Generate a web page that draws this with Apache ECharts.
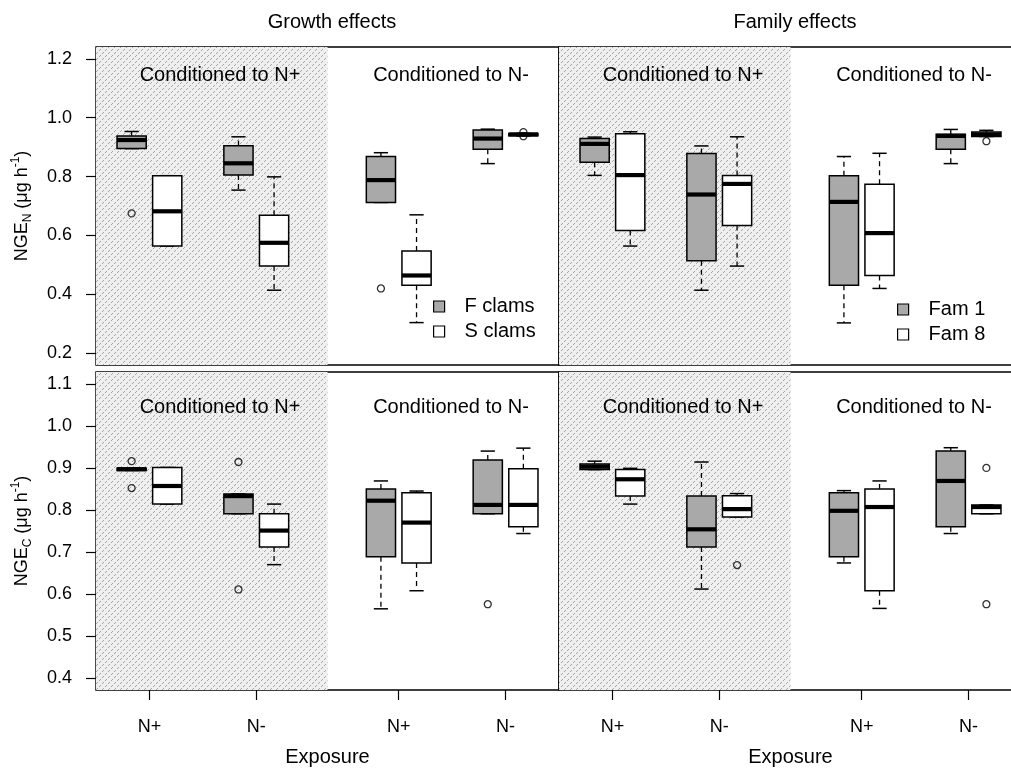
<!DOCTYPE html>
<html>
<head>
<meta charset="utf-8">
<script src="https://cdn.jsdelivr.net/npm/echarts@6/dist/echarts.min.js"></script>
<style>html,body{margin:0;padding:0;background:#fff;}#main{width:1011px;height:771px;}</style>
</head>
<body>
<div id="main"></div>
<script>
// ---------- DATA ----------
// Each box: [lower whisker, Q1, median, Q3, upper whisker]
// slots: 0 = Conditioned N+ / exposure N+, 1 = Cond N+ / exp N-, 2 = Cond N- / exp N+, 3 = Cond N- / exp N-
const exposureLabels = ['N+', 'N-', 'N+', 'N-'];
const exposureTicks = [1.5, 4.5, 8.5, 11.5];
const posA = [1, 4, 8, 11];
const posB = [2, 5, 9, 12];
const conditionedRange = [0, 6.5];

const yTicksN = [0.2, 0.4, 0.6, 0.8, 1.0, 1.2];
const yTicksC = [0.4, 0.5, 0.6, 0.7, 0.8, 0.9, 1.0, 1.1];

// NGE_N, growth effects
const growthN_F = [
  [0.895, 0.895, 0.924, 0.938, 0.953],
  [0.754, 0.805, 0.845, 0.905, 0.935],
  [0.712, 0.712, 0.788, 0.868, 0.881],
  [0.844, 0.893, 0.929, 0.958, 0.961]
];
const growthN_S = [
  [0.564, 0.564, 0.682, 0.803, 0.803],
  [0.414, 0.496, 0.575, 0.669, 0.799],
  [0.304, 0.431, 0.464, 0.547, 0.670],
  [0.938, 0.939, 0.943, 0.946, 0.947]
];
const growthN_F_out = [[0, 0.675], [2, 0.420]];
const growthN_S_out = [[3, 0.951], [3, 0.937]];

// NGE_N, family effects
const famN_1 = [
  [0.804, 0.849, 0.911, 0.929, 0.934],
  [0.414, 0.514, 0.739, 0.878, 0.904],
  [0.303, 0.431, 0.714, 0.803, 0.868],
  [0.844, 0.893, 0.938, 0.944, 0.960]
];
const famN_8 = [
  [0.564, 0.617, 0.805, 0.945, 0.952],
  [0.496, 0.634, 0.775, 0.804, 0.935],
  [0.420, 0.464, 0.608, 0.774, 0.879],
  [0.936, 0.936, 0.943, 0.951, 0.957]
];
const famN_1_out = [];
const famN_8_out = [[3, 0.920]];

// NGE_C, growth effects
const growthC_F = [
  [0.894, 0.894, 0.897, 0.899, 0.899],
  [0.791, 0.791, 0.833, 0.838, 0.838],
  [0.565, 0.689, 0.822, 0.850, 0.869],
  [0.791, 0.791, 0.812, 0.919, 0.940]
];
const growthC_S = [
  [0.814, 0.814, 0.857, 0.901, 0.901],
  [0.670, 0.712, 0.751, 0.791, 0.814],
  [0.608, 0.674, 0.770, 0.841, 0.845],
  [0.744, 0.760, 0.812, 0.898, 0.947]
];
const growthC_F_out = [[0, 0.916], [0, 0.852], [1, 0.914], [1, 0.611], [3, 0.576]];
const growthC_S_out = [];

// NGE_C, family effects
const famC_1 = [
  [0.896, 0.896, 0.903, 0.909, 0.916],
  [0.612, 0.712, 0.754, 0.833, 0.914],
  [0.674, 0.689, 0.798, 0.841, 0.846],
  [0.744, 0.760, 0.869, 0.940, 0.948]
];
const famC_8 = [
  [0.814, 0.833, 0.873, 0.896, 0.899],
  [0.783, 0.783, 0.802, 0.834, 0.839],
  [0.566, 0.608, 0.807, 0.850, 0.869],
  [0.791, 0.791, 0.807, 0.812, 0.812]
];
const famC_1_out = [];
const famC_8_out = [[1, 0.669], [3, 0.900], [3, 0.576]];

// ---------- STYLE ----------
const FONT = '"Liberation Sans", Arial, sans-serif';
const GRAY = '#a9a9a9';

function makeHatch() {
  const c = document.createElement('canvas');
  c.width = 6; c.height = 6;
  const ctx = c.getContext('2d');
  ctx.fillStyle = '#efefef';
  ctx.fillRect(0, 0, 6, 6);
  ctx.fillStyle = '#a6a6a6';
  ctx.fillRect(4, 1, 1, 1);
  ctx.fillRect(3, 2, 1, 1);
  ctx.fillRect(1, 4, 1, 1);
  ctx.fillRect(0, 5, 1, 1);
  return c;
}
const hatch = makeHatch();

function renderBox(params, api) {
  const x = api.value(0);
  const lo = api.value(1), q1 = api.value(2), md = api.value(3), q3 = api.value(4), hi = api.value(5);
  const hw = 0.41, cw = 0.2;
  const tl = api.coord([x - hw, q3]);
  const br = api.coord([x + hw, q1]);
  const cx = api.coord([x, md])[0];
  const ym = api.coord([x, md])[1];
  const yhi = api.coord([x, hi])[1];
  const ylo = api.coord([x, lo])[1];
  const cl = api.coord([x - cw, md])[0];
  const cr = api.coord([x + cw, md])[0];
  const dash = {stroke: '#000', lineWidth: 1.3, lineDash: [5, 4], fill: null};
  const solid = {stroke: '#000', lineWidth: 1.5, fill: null};
  return {
    type: 'group',
    children: [
      {type: 'line', shape: {x1: cx, y1: tl[1], x2: cx, y2: yhi}, style: dash},
      {type: 'line', shape: {x1: cx, y1: br[1], x2: cx, y2: ylo}, style: dash},
      {type: 'line', shape: {x1: cl, y1: yhi, x2: cr, y2: yhi}, style: solid},
      {type: 'line', shape: {x1: cl, y1: ylo, x2: cr, y2: ylo}, style: solid},
      {type: 'rect', shape: {x: tl[0], y: tl[1], width: br[0] - tl[0], height: br[1] - tl[1]},
        style: {fill: api.visual('color'), stroke: '#000', lineWidth: 1.5}},
      {type: 'line', shape: {x1: tl[0], y1: ym, x2: br[0], y2: ym}, style: {stroke: '#000', lineWidth: 4.2}}
    ]
  };
}

function boxSeries(name, stats, pos, color, g) {
  return {
    type: 'custom', name: name, xAxisIndex: g, yAxisIndex: g, z: 3,
    itemStyle: {color: color, borderColor: '#000', borderWidth: 1.2},
    renderItem: renderBox,
    encode: {x: 0, y: [1, 2, 3, 4, 5]},
    data: stats.map((s, i) => [pos[i]].concat(s)),
    silent: true
  };
}
function outSeries(out, pos, g) {
  return {
    type: 'scatter', name: 'outliers' + g, xAxisIndex: g, yAxisIndex: g, z: 4,
    symbol: 'circle', symbolSize: 7,
    itemStyle: {color: 'rgba(255,255,255,0)', borderColor: '#000', borderWidth: 1.3},
    data: out.map(o => [pos[o[0]], o[1]]),
    silent: true
  };
}
function shadeSeries(g) {
  return {
    type: 'line', name: 'shade' + g, xAxisIndex: g, yAxisIndex: g, z: 1, data: [], silent: true,
    markArea: {silent: true, itemStyle: {color: {image: hatch, repeat: 'repeat'}},
      data: [[{xAxis: conditionedRange[0]}, {xAxis: conditionedRange[1]}]]}
  };
}

const grids = [
  {left: 96, top: 47, width: 463, height: 318},
  {left: 559, top: 47, width: 463, height: 318},
  {left: 96, top: 372, width: 463, height: 318},
  {left: 559, top: 372, width: 463, height: 318}
].map(g => Object.assign(g, {show: true, borderColor: '#000', borderWidth: 1.4, backgroundColor: 'transparent',
  containLabel: false, outerBoundsMode: 'none'}));

function xAxisFor(g, bottom) {
  return {
    type: 'value', gridIndex: g, min: 0, max: 13,
    axisLine: {show: false}, splitLine: {show: false},
    axisTick: {show: bottom, length: 10, lineStyle: {color: '#000', width: 1.2}, customValues: exposureTicks},
    axisLabel: {show: bottom, margin: 28, fontFamily: FONT, fontSize: 18, color: '#000', customValues: exposureTicks,
      formatter: v => exposureLabels[exposureTicks.indexOf(v)] || ''},
    name: bottom ? 'Exposure' : '', nameLocation: 'middle', nameGap: 57,
    nameTextStyle: {fontFamily: FONT, fontSize: 20, color: '#000'}
  };
}
function yAxisFor(g, left, isN) {
  const ticks = isN ? yTicksN : yTicksC;
  return {
    type: 'value', gridIndex: g,
    min: isN ? 0.16 : 0.372, max: isN ? 1.24 : 1.128,
    axisLine: {show: false}, splitLine: {show: false},
    axisTick: {show: left, length: 10, lineStyle: {color: '#000', width: 1.2}, customValues: ticks},
    axisLabel: {show: left, margin: 24, fontFamily: FONT, fontSize: 18, color: '#000', customValues: ticks,
      formatter: v => v.toFixed(1)},
    name: left ? (isN ? 'NGE{sub|N} (μg h{sup|-1})' : 'NGE{sub|C} (μg h{sup|-1})') : '',
    nameLocation: 'middle', nameRotate: 90, nameGap: 62,
    nameTextStyle: {fontFamily: FONT, fontSize: 18, color: '#000', lineHeight: 24,
      rich: {
        sub: {fontFamily: FONT, fontSize: 12, lineHeight: 12, verticalAlign: 'bottom', color: '#000'},
        sup: {fontFamily: FONT, fontSize: 12, lineHeight: 12, verticalAlign: 'top', color: '#000'}
      }}
  };
}

const condLabels = [
  {x: 220, y: 75, t: 'Conditioned to N+'}, {x: 451, y: 75, t: 'Conditioned to N-'},
  {x: 683, y: 75, t: 'Conditioned to N+'}, {x: 914, y: 75, t: 'Conditioned to N-'},
  {x: 220, y: 407, t: 'Conditioned to N+'}, {x: 451, y: 407, t: 'Conditioned to N-'},
  {x: 683, y: 407, t: 'Conditioned to N+'}, {x: 914, y: 407, t: 'Conditioned to N-'}
];

const legendBase = {
  orient: 'vertical', icon: 'rect', itemWidth: 11, itemHeight: 11, itemGap: 4,
  itemStyle: {borderColor: '#000', borderWidth: 1.2},
  textStyle: {fontFamily: FONT, fontSize: 20, color: '#000', lineHeight: 21, padding: [0, 0, 0, 15]},
  selectedMode: false
};

const option = {
  backgroundColor: '#fff',
  animation: false,
  textStyle: {fontFamily: FONT},
  title: [
    {text: 'Growth effects', left: 327, top: 7, textAlign: 'center', textStyle: {fontFamily: FONT, fontSize: 20, fontWeight: 'normal', color: '#000'}},
    {text: 'Family effects', left: 790, top: 7, textAlign: 'center', textStyle: {fontFamily: FONT, fontSize: 20, fontWeight: 'normal', color: '#000'}}
  ],
  legend: [
    Object.assign({}, legendBase, {left: 428, top: 291, data: ['F clams', 'S clams']}),
    Object.assign({}, legendBase, {left: 892, top: 294, data: ['Fam 1', 'Fam 8']})
  ],
  grid: grids,
  xAxis: [xAxisFor(0, false), xAxisFor(1, false), xAxisFor(2, true), xAxisFor(3, true)],
  yAxis: [yAxisFor(0, true, true), yAxisFor(1, false, true), yAxisFor(2, true, false), yAxisFor(3, false, false)],
  graphic: condLabels.map(c => ({
    type: 'text', x: c.x, y: c.y, z: 10,
    style: {text: c.t, fontFamily: FONT, fontSize: 20, fill: '#000', align: 'center', verticalAlign: 'middle'}
  })),
  series: [
    shadeSeries(0), shadeSeries(1), shadeSeries(2), shadeSeries(3),
    boxSeries('F clams', growthN_F, posA, GRAY, 0),
    boxSeries('S clams', growthN_S, posB, '#fff', 0),
    outSeries(growthN_F_out, posA, 0), outSeries(growthN_S_out, posB, 0),
    boxSeries('Fam 1', famN_1, posA, GRAY, 1),
    boxSeries('Fam 8', famN_8, posB, '#fff', 1),
    outSeries(famN_1_out, posA, 1), outSeries(famN_8_out, posB, 1),
    boxSeries('F clams', growthC_F, posA, GRAY, 2),
    boxSeries('S clams', growthC_S, posB, '#fff', 2),
    outSeries(growthC_F_out, posA, 2), outSeries(growthC_S_out, posB, 2),
    boxSeries('Fam 1', famC_1, posA, GRAY, 3),
    boxSeries('Fam 8', famC_8, posB, '#fff', 3),
    outSeries(famC_1_out, posA, 3), outSeries(famC_8_out, posB, 3)
  ]
};

const chart = echarts.init(document.getElementById('main'), null, {renderer: 'canvas'});
chart.setOption(option);
</script>
</body>
</html>
